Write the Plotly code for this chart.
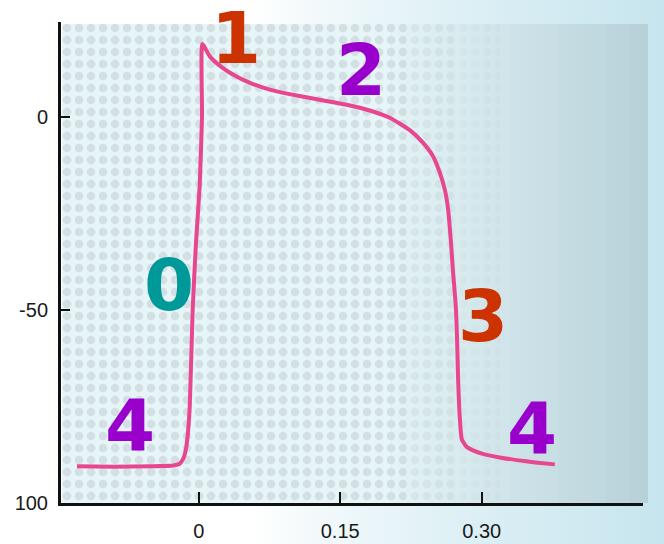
import plotly.graph_objects as go

# Ventricular action potential: time (s) vs membrane potential (mV)
time_s = [-0.129, -0.090, -0.050, -0.027, -0.020, -0.016, -0.0135, -0.0115, -0.0095,
          -0.0064, -0.003, 0.001, 0.0035, 0.0039, 0.0117, 0.0250, 0.0400, 0.0550,
          0.0753, 0.0950, 0.1212, 0.1566, 0.1813, 0.2025, 0.2238, 0.2379, 0.2485,
          0.2556, 0.2609, 0.2644, 0.2672, 0.2697, 0.2725, 0.2739, 0.2750, 0.2768,
          0.2789, 0.2842, 0.2920, 0.3012, 0.3190, 0.3372, 0.3570, 0.3775]
potential_mv = [-90.5, -90.6, -90.5, -90.3, -89.8, -88.3, -86.0, -82.0, -75.0,
                -50.0, -33.0, -18.0, 0.0, 18.8, 15.6, 12.7, 10.4, 8.7,
                7.0, 5.9, 4.7, 3.1, 1.6, -0.3, -3.5, -6.8, -10.3,
                -14.5, -18.9, -24.0, -31.8, -40.4, -49.0, -57.6, -68.0, -78.0,
                -83.5, -85.5, -86.5, -87.3, -88.2, -88.9, -89.5, -90.0]

x_tickvals = [0, 0.15, 0.30]
x_ticktext = ["0", "0.15", "0.30"]
y_tickvals = [-100, -50, 0]
y_ticktext = ["100", "-50", "0"]

# Phase labels
phase_text = ["0", "1", "2", "3", "4", "4"]
phase_t = [-0.031, 0.039, 0.172, 0.301, -0.073, 0.353]
phase_v = [-43.5, 20.4, 12.2, -51.6, -79.8, -80.6]
phase_color = ["#009999", "#CC3300", "#9900CC", "#CC3300", "#9900CC", "#9900CC"]

X_RANGE = [-0.146, 0.471]
Y_RANGE = [-100, 24.5]

W, H = 664, 544
ML, MR, MT, MB = 61, 21, 22, 41
PW, PH = W - ML - MR, H - MT - MB


def px_x(p):
    return (p - ML) / PW


def px_y(p):
    return (H - MB - p) / PH


def lerp(c1, c2, f):
    a = [int(c1[i:i + 2], 16) for i in (1, 3, 5)]
    b = [int(c2[i:i + 2], 16) for i in (1, 3, 5)]
    return "#" + "".join(f"{round(a[k] + (b[k] - a[k]) * f):02x}" for k in range(3))


shapes = []
# page backdrop: white on the left fading to pale cyan on the right
step = 8
for p in range(0, W, step):
    f = max(0.0, (p - 250) / (W - 250))
    shapes.append(dict(type="rect", xref="paper", yref="paper", layer="below",
                       x0=px_x(p), x1=px_x(p + step + 1), y0=px_y(H), y1=px_y(0),
                       line_width=0, fillcolor=lerp("#ffffff", "#c6e5ee", f ** 0.8)))
# printed panel: pale cyan, greying toward its right edge
for p in range(62, 648, step):
    f = max(0.0, (p - 380) / (648 - 380))
    shapes.append(dict(type="rect", xref="paper", yref="paper", layer="below",
                       x0=px_x(p), x1=px_x(min(p + step + 1, 648)), y0=px_y(503), y1=px_y(24),
                       line_width=0, fillcolor=lerp("#e5f5f8", "#b6d0d8", f)))

fig = go.Figure()

# halftone dot texture, layered so it fades out toward the right of the panel
for x_end, opacity in [(0.22, 0.15), (0.27, 0.11), (0.32, 0.08)]:
    fig.add_trace(go.Scatter(
        x=[X_RANGE[0], x_end, x_end, X_RANGE[0], X_RANGE[0]],
        y=[Y_RANGE[0], Y_RANGE[0], Y_RANGE[1], Y_RANGE[1], Y_RANGE[0]],
        mode="lines", fill="toself", line=dict(width=0), fillcolor="rgba(0,0,0,0)",
        fillpattern=dict(shape=".", size=12, solidity=0.4, fgcolor="#a9b0b3",
                         fgopacity=opacity, bgcolor="rgba(0,0,0,0)"),
        hoverinfo="skip", showlegend=False))

fig.add_trace(go.Scatter(x=time_s, y=potential_mv, mode="lines",
                         line=dict(color="#E8468E", width=4, shape="spline", smoothing=0.5),
                         showlegend=False))

annotations = []
for txt, t, v, c in zip(phase_text, phase_t, phase_v, phase_color):
    annotations.append(dict(x=t, y=v, xref="x", yref="y", text=txt, showarrow=False,
                            xanchor="center", yanchor="middle", height=60,
                            font=dict(family="DejaVu Sans", size=72, color=c, weight="bold")))

tick_font = dict(family="Liberation Sans", size=20, color="#1a1a1a")

fig.update_layout(
    width=W, height=H,
    margin=dict(l=ML, r=MR, t=MT, b=MB, autoexpand=False),
    paper_bgcolor="#ffffff",
    plot_bgcolor="rgba(0,0,0,0)",
    shapes=shapes,
    annotations=annotations,
    xaxis=dict(range=X_RANGE, tickvals=x_tickvals, ticktext=x_ticktext, automargin=False,
               showgrid=False, zeroline=False, showline=True, linecolor="#111111",
               linewidth=3, ticks="inside", ticklen=11, tickwidth=2, tickcolor="#111111",
               tickfont=tick_font, ticklabelstandoff=8),
    yaxis=dict(range=Y_RANGE, tickvals=y_tickvals, ticktext=y_ticktext, automargin=False,
               showgrid=False, zeroline=False, showline=True, linecolor="#111111",
               linewidth=3, ticks="inside", ticklen=9, tickwidth=2, tickcolor="#111111",
               tickfont=tick_font, ticklabelstandoff=6),
)

fig.write_html("out.html")
